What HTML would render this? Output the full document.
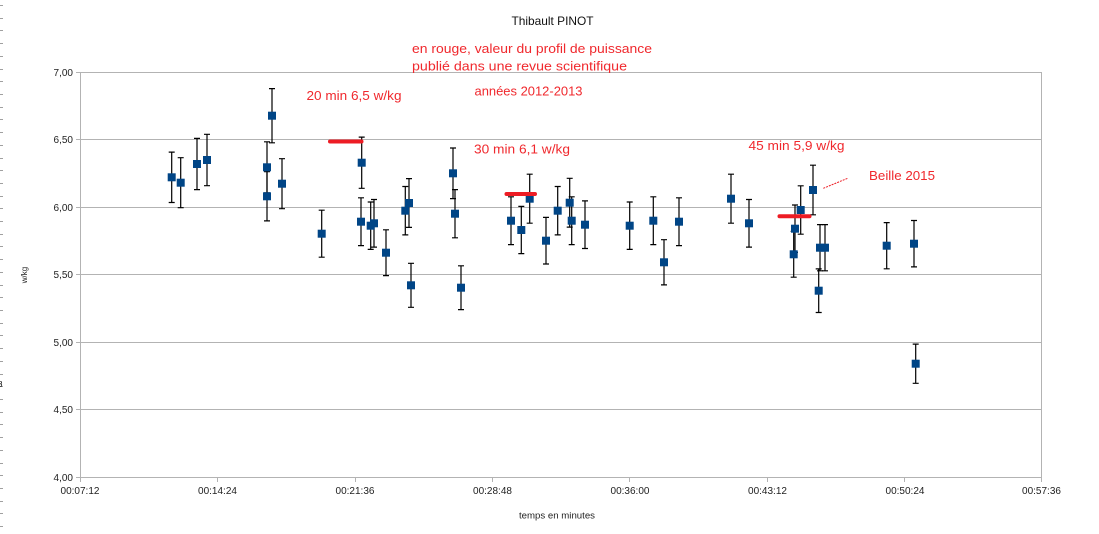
<!DOCTYPE html>
<html><head><meta charset="utf-8"><style>
html,body{margin:0;padding:0;background:#fff;}
svg{display:block;}
text{font-family:"Liberation Sans",Arial,sans-serif;}
</style></head><body>
<svg width="1099" height="534" viewBox="0 0 1099 534" xmlns="http://www.w3.org/2000/svg">
<rect width="1099" height="534" fill="#fff"/>
<g stroke="#a0a0a0" stroke-width="1" shape-rendering="crispEdges">
<path d="M0 5.5h3M0 18.5h3M0 30.5h3M0 43.5h3M0 56.5h3M0 69.5h3M0 81.5h3M0 94.5h3M0 107.5h3M0 119.5h3M0 132.5h3M0 145.5h3M0 158.5h3M0 170.5h3M0 183.5h3M0 196.5h3M0 208.5h3M0 221.5h3M0 234.5h3M0 246.5h3M0 259.5h3M0 272.5h3M0 285.5h3M0 297.5h3M0 310.5h3M0 323.5h3M0 335.5h3M0 348.5h3M0 361.5h3M0 374.5h3M0 386.5h3M0 399.5h3M0 412.5h3M0 424.5h3M0 437.5h3M0 450.5h3M0 463.5h3M0 475.5h3M0 488.5h3M0 501.5h3M0 513.5h3M0 526.5h3"/>
</g>
<text x="-2" y="387" font-size="8" fill="#000">8</text>

<g stroke="#b3b3b3" stroke-width="1" shape-rendering="crispEdges">
<path d="M76 72.5H1042M76 139.5H1042M76 207.5H1042M76 274.5H1042M76 342.5H1042M76 409.5H1042M76 477.5H1042"/>
<path d="M80.5 72V482M1041.5 72V482M217.5 477V482M355.5 477V482M492.5 477V482M629.5 477V482M767.5 477V482M904.5 477V482"/>
</g>

<g font-size="10" fill="#222" text-anchor="end">
<text x="73" y="76">7,00</text>
<text x="73" y="143">6,50</text>
<text x="73" y="211">6,00</text>
<text x="73" y="278">5,50</text>
<text x="73" y="346">5,00</text>
<text x="73" y="413">4,50</text>
<text x="73" y="481">4,00</text>
</g>
<g font-size="10" fill="#222" text-anchor="middle">
<text x="80" y="494">00:07:12</text>
<text x="217.5" y="494">00:14:24</text>
<text x="355" y="494">00:21:36</text>
<text x="492.5" y="494">00:28:48</text>
<text x="630" y="494">00:36:00</text>
<text x="767.5" y="494">00:43:12</text>
<text x="905" y="494">00:50:24</text>
<text x="1041.5" y="494">00:57:36</text>
</g>
<text x="519" y="518.5" font-size="9.5" fill="#222" textLength="76" lengthAdjust="spacingAndGlyphs">temps en minutes</text>
<text x="27" y="275" font-size="8" fill="#222" text-anchor="middle" transform="rotate(-90 27 275)">w/kg</text>

<text x="511.5" y="25" font-size="12" fill="#111" textLength="82" lengthAdjust="spacingAndGlyphs">Thibault PINOT</text>

<g font-size="12.5" fill="#f0282d">
<text x="412" y="53" textLength="240" lengthAdjust="spacingAndGlyphs">en rouge, valeur du profil de puissance</text>
<text x="412" y="70.5" textLength="215" lengthAdjust="spacingAndGlyphs">publié dans une revue scientifique</text>
<text x="474.5" y="95.5" textLength="108" lengthAdjust="spacingAndGlyphs">années 2012-2013</text>
<text x="306.5" y="100" textLength="95" lengthAdjust="spacingAndGlyphs">20 min 6,5 w/kg</text>
<text x="474" y="153.5" textLength="96" lengthAdjust="spacingAndGlyphs">30 min 6,1 w/kg</text>
<text x="748.5" y="150" textLength="96" lengthAdjust="spacingAndGlyphs">45 min 5,9 w/kg</text>
<text x="869" y="180" textLength="66" lengthAdjust="spacingAndGlyphs">Beille 2015</text>
</g>

<g stroke="#000" stroke-width="1.2" fill="none">
<path d="M171.7 152.1V202.5M168.7 152.1h6M168.7 202.5h6"/>
<path d="M180.7 157.7V207.7M177.7 157.7h6M177.7 207.7h6"/>
<path d="M197 138.4V189.6M194 138.4h6M194 189.6h6"/>
<path d="M207 134.3V185.7M204 134.3h6M204 185.7h6"/>
<path d="M267 141.8V192.8M264 141.8h6M264 192.8h6"/>
<path d="M267 171.7V220.9M264 171.7h6M264 220.9h6"/>
<path d="M272 88.6V142.8M269 88.6h6M269 142.8h6"/>
<path d="M282 158.7V208.7M279 158.7h6M279 208.7h6"/>
<path d="M321.7 210.2V257.2M318.7 210.2h6M318.7 257.2h6"/>
<path d="M361.7 137.1V188.3M358.7 137.1h6M358.7 188.3h6"/>
<path d="M361 197.8V245.6M358 197.8h6M358 245.6h6"/>
<path d="M370.7 202V249.4M367.7 202h6M367.7 249.4h6"/>
<path d="M374 199.5V247.1M371 199.5h6M371 247.1h6"/>
<path d="M386 229.8V275.6M383 229.8h6M383 275.6h6"/>
<path d="M405.3 186.5V234.9M402.3 186.5h6M402.3 234.9h6"/>
<path d="M409 178.6V227.4M406 178.6h6M406 227.4h6"/>
<path d="M411 263.3V307.3M408 263.3h6M408 307.3h6"/>
<path d="M453 148V198.6M450 148h6M450 198.6h6"/>
<path d="M455 189.6V237.8M452 189.6h6M452 237.8h6"/>
<path d="M461 265.8V309.6M458 265.8h6M458 309.6h6"/>
<path d="M511 196.8V244.6M508 196.8h6M508 244.6h6"/>
<path d="M521.3 206.4V253.6M518.3 206.4h6M518.3 253.6h6"/>
<path d="M529.7 174.2V223.2M526.7 174.2h6M526.7 223.2h6"/>
<path d="M546 217.4V264M543 217.4h6M543 264h6"/>
<path d="M557.7 186.5V234.9M554.7 186.5h6M554.7 234.9h6"/>
<path d="M569.7 178.3V227.1M566.7 178.3h6M566.7 227.1h6"/>
<path d="M571.7 196.8V244.6M568.7 196.8h6M568.7 244.6h6"/>
<path d="M585 200.9V248.5M582 200.9h6M582 248.5h6"/>
<path d="M629.7 202V249.4M626.7 202h6M626.7 249.4h6"/>
<path d="M653.3 196.8V244.6M650.3 196.8h6M650.3 244.6h6"/>
<path d="M664 239.7V284.9M661 239.7h6M661 284.9h6"/>
<path d="M679 197.8V245.6M676 197.8h6M676 245.6h6"/>
<path d="M731 174.2V223.2M728 174.2h6M728 223.2h6"/>
<path d="M749 199.5V247.1M746 199.5h6M746 247.1h6"/>
<path d="M795 205V252.4M792 205h6M792 252.4h6"/>
<path d="M793.7 231.4V277.2M790.7 231.4h6M790.7 277.2h6"/>
<path d="M800.7 185.8V234.2M797.7 185.8h6M797.7 234.2h6"/>
<path d="M813 165.2V214.8M810 165.2h6M810 214.8h6"/>
<path d="M818.7 268.9V312.5M815.7 268.9h6M815.7 312.5h6"/>
<path d="M820 224.6V270.8M817 224.6h6M817 270.8h6"/>
<path d="M825 224.6V270.8M822 224.6h6M822 270.8h6"/>
<path d="M886.7 222.6V268.8M883.7 222.6h6M883.7 268.8h6"/>
<path d="M914 220.5V266.9M911 220.5h6M911 266.9h6"/>
<path d="M915.7 344.1V383.3M912.7 344.1h6M912.7 383.3h6"/>
</g>

<g fill="#004586">
<rect x="167.7" y="173.3" width="8" height="8"/>
<rect x="176.7" y="178.7" width="8" height="8"/>
<rect x="193" y="160" width="8" height="8"/>
<rect x="203" y="156" width="8" height="8"/>
<rect x="263" y="163.3" width="8" height="8"/>
<rect x="263" y="192.3" width="8" height="8"/>
<rect x="268" y="111.7" width="8" height="8"/>
<rect x="278" y="179.7" width="8" height="8"/>
<rect x="317.7" y="229.7" width="8" height="8"/>
<rect x="357.7" y="158.7" width="8" height="8"/>
<rect x="357" y="217.7" width="8" height="8"/>
<rect x="366.7" y="221.7" width="8" height="8"/>
<rect x="370" y="219.3" width="8" height="8"/>
<rect x="382" y="248.7" width="8" height="8"/>
<rect x="401.3" y="206.7" width="8" height="8"/>
<rect x="405" y="199" width="8" height="8"/>
<rect x="407" y="281.3" width="8" height="8"/>
<rect x="449" y="169.3" width="8" height="8"/>
<rect x="451" y="209.7" width="8" height="8"/>
<rect x="457" y="283.7" width="8" height="8"/>
<rect x="507" y="216.7" width="8" height="8"/>
<rect x="517.3" y="226" width="8" height="8"/>
<rect x="525.7" y="194.7" width="8" height="8"/>
<rect x="542" y="236.7" width="8" height="8"/>
<rect x="553.7" y="206.7" width="8" height="8"/>
<rect x="565.7" y="198.7" width="8" height="8"/>
<rect x="567.7" y="216.7" width="8" height="8"/>
<rect x="581" y="220.7" width="8" height="8"/>
<rect x="625.7" y="221.7" width="8" height="8"/>
<rect x="649.3" y="216.7" width="8" height="8"/>
<rect x="660" y="258.3" width="8" height="8"/>
<rect x="675" y="217.7" width="8" height="8"/>
<rect x="727" y="194.7" width="8" height="8"/>
<rect x="745" y="219.3" width="8" height="8"/>
<rect x="791" y="224.7" width="8" height="8"/>
<rect x="789.7" y="250.3" width="8" height="8"/>
<rect x="796.7" y="206" width="8" height="8"/>
<rect x="809" y="186" width="8" height="8"/>
<rect x="814.7" y="286.7" width="8" height="8"/>
<rect x="816" y="243.7" width="8" height="8"/>
<rect x="821" y="243.7" width="8" height="8"/>
<rect x="882.7" y="241.7" width="8" height="8"/>
<rect x="910" y="239.7" width="8" height="8"/>
<rect x="911.7" y="359.7" width="8" height="8"/>
</g>

<g stroke="#ed1c24" stroke-width="4" stroke-linecap="round">
<line x1="330" y1="141.5" x2="361.5" y2="141.5"/>
<line x1="506.5" y1="194" x2="535" y2="194"/>
<line x1="779.5" y1="216.3" x2="809.5" y2="216.3"/>
</g>
<line x1="823.3" y1="188.3" x2="847.7" y2="178.3" stroke="#ed1c24" stroke-width="1" stroke-dasharray="2 1"/>
</svg>
</body></html>
